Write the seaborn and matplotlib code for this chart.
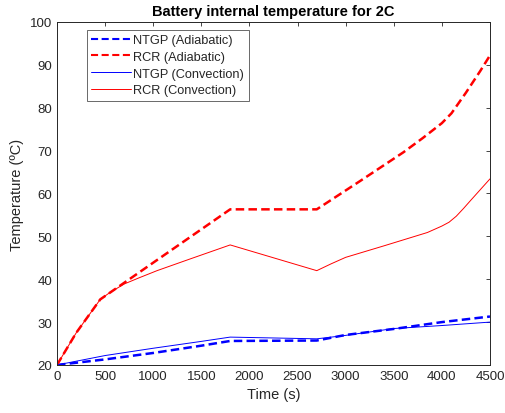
import numpy as np
import pandas as pd
import matplotlib
matplotlib.use("Agg")
import matplotlib.pyplot as plt
import seaborn as sns

# Data
t_ntgp_ad = [0, 500, 1000, 1500, 1800, 2700, 3000, 3500, 4000, 4500]
T_ntgp_ad = [20, 21.3, 22.8, 24.5, 25.6, 25.7, 27.0, 28.4, 30.0, 31.3]

t_rcr_ad = [0, 200, 450, 1800, 2700, 3150, 3600, 3800, 4000, 4100, 4250, 4400, 4500]
T_rcr_ad = [20, 27.5, 35.3, 56.3, 56.3, 62.9, 69.6, 72.9, 76.4, 78.7, 83.5, 88.6, 92.2]

t_ntgp_cv = [0, 500, 1000, 1500, 1800, 2250, 2700, 3000, 3500, 4000, 4500]
T_ntgp_cv = [20, 22.2, 23.9, 25.5, 26.5, 26.3, 26.1, 26.9, 28.5, 29.2, 30.0]

t_rcr_cv = [0, 200, 450, 550, 700, 850, 1040, 1380, 1800, 2700, 2850, 3000, 3400,
            3850, 4000, 4075, 4150, 4225, 4300, 4500]
T_rcr_cv = [20, 27.5, 35.3, 36.9, 38.9, 40.3, 42.0, 44.7, 48.0, 42.0, 43.6, 45.1, 47.8,
            50.9, 52.4, 53.3, 54.7, 56.5, 58.4, 63.4]

labels = ["NTGP (Adiabatic)", "RCR (Adiabatic)", "NTGP (Convection)", "RCR (Convection)"]
x_ticks = list(range(0, 4501, 500))
y_ticks = list(range(20, 101, 10))

sns.set_style("white")
plt.rcParams["font.family"] = ["Liberation Sans", "DejaVu Sans"]

fig = plt.figure(figsize=(5.06, 4.14), dpi=100)
ax = fig.add_axes([0.1126, 0.116, 0.8557, 0.8285])

gray = "#262626"
dash = (0, (3.4, 1.7))
sns.lineplot(x=t_ntgp_ad, y=T_ntgp_ad, ax=ax, color=(0, 0, 1), lw=1.8,
             linestyle=dash, label=labels[0], sort=False, estimator=None)
sns.lineplot(x=t_rcr_ad, y=T_rcr_ad, ax=ax, color=(1, 0, 0), lw=1.8,
             linestyle=dash, label=labels[1], sort=False, estimator=None)
sns.lineplot(x=t_ntgp_cv, y=T_ntgp_cv, ax=ax, color=(0, 0, 1), lw=0.7,
             label=labels[2], sort=False, estimator=None)
sns.lineplot(x=t_rcr_cv, y=T_rcr_cv, ax=ax, color=(1, 0, 0), lw=0.7,
             label=labels[3], sort=False, estimator=None)

ax.set_xlim(0, 4500)
ax.set_ylim(20, 100)
ax.set_xticks(x_ticks)
ax.set_yticks(y_ticks)
ax.tick_params(direction="in", length=3, width=0.6, colors=gray, labelsize=9.5,
               top=True, right=True, labelcolor=gray)
for s in ax.spines.values():
    s.set_color(gray)
    s.set_linewidth(0.7)
    s.set_visible(True)

ax.set_xlabel("Time (s)", fontsize=10.5, color=gray)
ax.set_ylabel("Temperature (ºC)", fontsize=10.5, color=gray)
ax.set_title("Battery internal temperature for 2C", fontsize=10.5, fontweight="bold",
             color="black", pad=5)

leg = ax.legend(loc="upper left", bbox_to_anchor=(0.0686, 0.977), borderaxespad=0,
                fontsize=9.2, frameon=True, fancybox=False, handlelength=3.1,
                handletextpad=0.2, labelspacing=0.36, borderpad=0.35)
leg.get_frame().set_edgecolor(gray)
leg.get_frame().set_linewidth(0.6)
for txt in leg.get_texts():
    txt.set_color(gray)
for h in leg.get_lines()[:2]:
    h.set_linewidth(1.5)

fig.savefig("out.png", dpi=100)
